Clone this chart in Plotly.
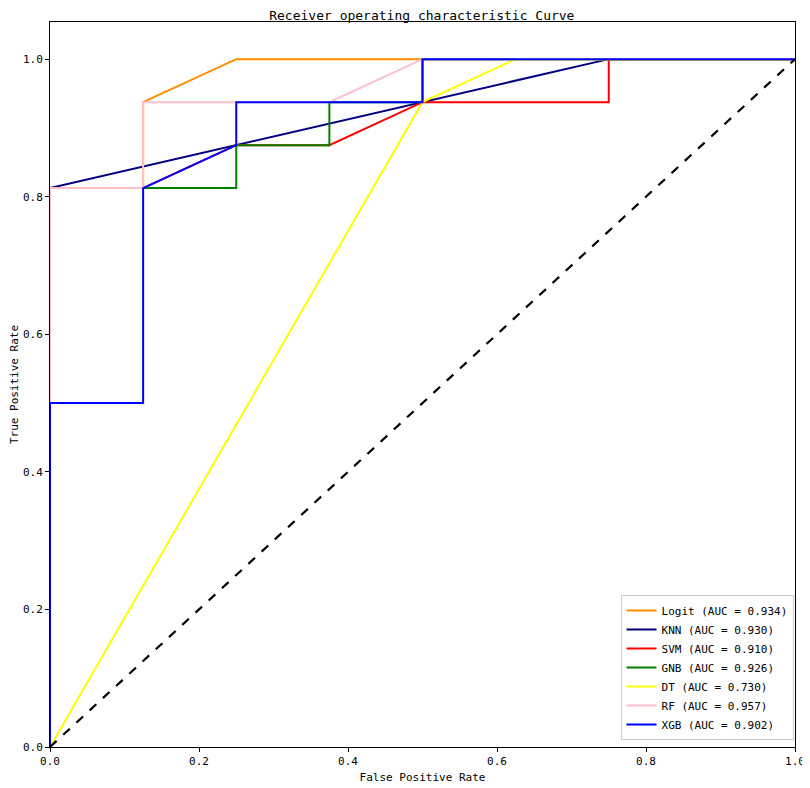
import plotly.graph_objects as go

# ROC points (8 negatives, 16 positives)
names = ["Logit", "KNN", "SVM", "GNB", "DT", "RF", "XGB"]
aucs = [0.934, 0.930, 0.910, 0.926, 0.730, 0.957, 0.902]
colors = ["darkorange", "navy", "red", "green", "yellow", "pink", "blue"]

fpr_logit = [0, 0, 0.125, 0.125, 0.25, 1]
tpr_logit = [0, 0.8125, 0.8125, 0.9375, 1, 1]
fpr_knn = [0, 0, 0.75, 1]
tpr_knn = [0, 0.8125, 1, 1]
fpr_svm = [0, 0, 0.125, 0.25, 0.375, 0.5, 0.75, 0.75, 1]
tpr_svm = [0, 0.8125, 0.8125, 0.875, 0.875, 0.9375, 0.9375, 1, 1]
fpr_gnb = [0, 0, 0.25, 0.25, 0.375, 0.375, 0.5, 0.5, 1]
tpr_gnb = [0, 0.8125, 0.8125, 0.875, 0.875, 0.9375, 0.9375, 1, 1]
fpr_dt = [0, 0.5, 0.625, 1]
tpr_dt = [0, 0.9375, 1, 1]
fpr_rf = [0, 0, 0.125, 0.125, 0.375, 0.5, 1]
tpr_rf = [0, 0.8125, 0.8125, 0.9375, 0.9375, 1, 1]
fpr_xgb = [0, 0, 0.125, 0.125, 0.25, 0.25, 0.5, 0.5, 1]
tpr_xgb = [0, 0.5, 0.5, 0.8125, 0.875, 0.9375, 0.9375, 1, 1]

fprs = [fpr_logit, fpr_knn, fpr_svm, fpr_gnb, fpr_dt, fpr_rf, fpr_xgb]
tprs = [tpr_logit, tpr_knn, tpr_svm, tpr_gnb, tpr_dt, tpr_rf, tpr_xgb]

font = "DejaVu Sans Mono"

fig = go.Figure()
for name, auc, col, fx, ty in zip(names, aucs, colors, fprs, tprs):
    fig.add_trace(go.Scatter(x=fx, y=ty, mode="lines",
                             name="%s (AUC = %.3f)" % (name, auc),
                             line=dict(color=col, width=2)))

fig.add_trace(go.Scatter(x=[0, 1], y=[0, 1], mode="lines", showlegend=False,
                         line=dict(color="black", width=2.2, dash="dash")))

axis = dict(showgrid=False, zeroline=False, showline=True, linecolor="black",
            linewidth=1, mirror=True, ticks="outside", ticklen=4,
            tickcolor="black", dtick=0.2, tickformat=".1f", automargin=False,
            layer="below traces", tickfont=dict(size=11, color="black"))

# page body has an 8px margin, so the figure is a bit smaller than the window
fig.update_layout(
    width=802, height=780,
    margin=dict(l=42, r=15, t=14, b=41),
    plot_bgcolor="white", paper_bgcolor="white",
    font=dict(family=font, color="black"),
    title=dict(text="Receiver operating characteristic Curve", x=0.516,
               xanchor="center", yref="container", y=1 - 7 / 780,
               yanchor="middle", automargin=False, font=dict(size=13)),
    xaxis=dict(axis, range=[0, 1],
               title=dict(text="False Positive Rate", font=dict(size=11), standoff=6)),
    yaxis=dict(axis, range=[0, 1.054],
               title=dict(text="True Positive Rate", font=dict(size=11), standoff=2)),
    legend=dict(x=0.998, y=0.0097, xanchor="right", yanchor="bottom",
                bgcolor="white", bordercolor="#cccccc", borderwidth=1,
                font=dict(size=11), tracegroupgap=0, itemwidth=30),
)

fig.write_html("out.html")
